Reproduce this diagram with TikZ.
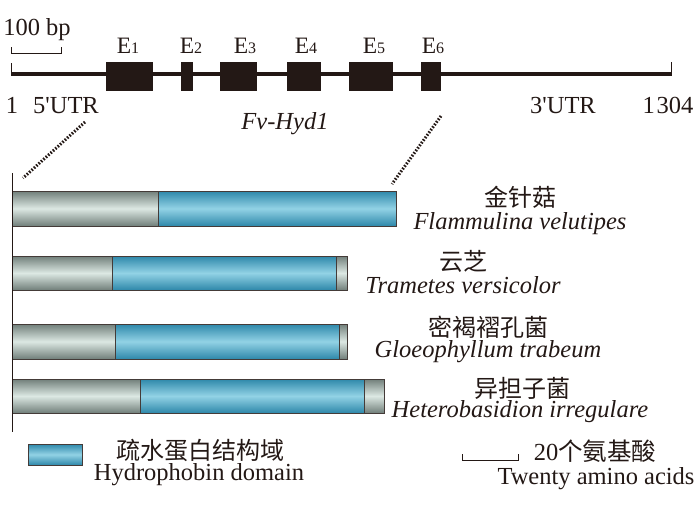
\documentclass[tikz,border=0pt]{standalone}
\usepackage{fontspec}
\setmainfont{Liberation Serif}
\newfontfamily\cjk{Noto Sans CJK SC}
\definecolor{txt}{HTML}{231815}
\definecolor{gdark}{HTML}{717F7A}
\definecolor{glight}{HTML}{DCE8E3}
\definecolor{bdark}{HTML}{2E88AA}
\definecolor{blight}{HTML}{92D2E5}
\begin{document}
\begin{tikzpicture}[x=1pt,y=-1pt,
  every node/.style={inner sep=0pt,outer sep=0pt,text=txt},
  lbl/.style={font=\fontsize{24.5}{26}\selectfont,anchor=base},
  itl/.style={font=\fontsize{24.5}{26}\selectfont\itshape,anchor=base},
  zh/.style={font=\fontsize{24}{26}\cjk,anchor=center},
  exlbl/.style={font=\fontsize{23.5}{25}\selectfont,anchor=base},
  exon/.style={fill=txt},
  graybar/.style={draw=txt!85,line width=0.8pt,top color=gdark,bottom color=gdark,middle color=glight},
  bluebar/.style={draw=txt!85,line width=0.8pt,top color=bdark,bottom color=bdark,middle color=blight},
  dotline/.style={txt,line width=3pt,dash pattern=on 1.6pt off 1.6pt},
  scalebar/.style={txt,line width=0.9pt}]
\useasboundingbox (0,0) rectangle (700,507);
% scale 100 bp
\node[lbl] (bp) at (37,35) {100 bp};
\draw[scalebar] (11,47) -- (11,53) -- (61,53) -- (61,47);
% gene line
\draw[txt,line width=3.5pt] (11,74) -- (671,74);
\draw[txt,line width=1pt] (11,63) -- (11,75.5);
\draw[txt,line width=1pt] (671,62) -- (671,75.5);
% exons
\fill[exon] (106,62) rectangle (153,91);
\fill[exon] (181,62) rectangle (193,91);
\fill[exon] (220,62) rectangle (257,91);
\fill[exon] (287,62) rectangle (321,91);
\fill[exon] (349,62) rectangle (393,91);
\fill[exon] (421,62) rectangle (441,91);
\node[exlbl] (e1) at (128,53) {E{\fontsize{16}{17}\selectfont 1}};
\node[exlbl] (e2) at (191,53) {E{\fontsize{16}{17}\selectfont 2}};
\node[exlbl] (e3) at (245,53) {E{\fontsize{16}{17}\selectfont 3}};
\node[exlbl] (e4) at (306,53) {E{\fontsize{16}{17}\selectfont 4}};
\node[exlbl] (e5) at (374,53) {E{\fontsize{16}{17}\selectfont 5}};
\node[exlbl] (e6) at (433,53) {E{\fontsize{16}{17}\selectfont 6}};
% gene labels
\node[lbl] (one) at (12,113) {1};
\node[lbl] (utr5) at (66,113) {5\textquotesingle UTR};
\node[itl] (gene) at (285,129) {Fv-Hyd1};
\node[lbl] (utr3) at (563,113) {3\textquotesingle UTR};
\node[lbl] (end) at (668,113) {1\kern2pt304};
% dotted connectors
\coordinate (d1a) at (85,122);
\coordinate (d1b) at (23,178);
\coordinate (d2a) at (441,116);
\coordinate (d2b) at (392,184);
\draw[dotline] (d1a) -- (d1b);
\draw[dotline] (d2a) -- (d2b);
% bars
\path[graybar] (12,191) rectangle (158,226);
\path[bluebar] (158,191) rectangle (396,226);
\path[graybar] (12,256) rectangle (112,290);
\path[bluebar] (112,256) rectangle (336,290);
\path[graybar] (336,256) rectangle (347,290);
\path[graybar] (12,324) rectangle (115,359);
\path[bluebar] (115,324) rectangle (339,359);
\path[graybar] (339,324) rectangle (347,359);
\path[graybar] (12,379) rectangle (140,413);
\path[bluebar] (140,379) rectangle (364,413);
\path[graybar] (364,379) rectangle (384,413);
% axis
\draw[txt,line width=1pt] (12,173) -- (12,432);
% species labels
\node[zh] (s1z) at (520,197) {金针菇};
\node[itl] (s1) at (520,229) {Flammulina velutipes};
\node[zh] (s2z) at (463,261) {云芝};
\node[itl] (s2) at (463,293) {Trametes versicolor};
\node[zh] (s3z) at (488,327) {密褐褶孔菌};
\node[itl] (s3) at (488,357) {Gloeophyllum trabeum};
\node[zh] (s4z) at (522,388) {异担子菌};
\node[itl] (s4) at (520,417) {Heterobasidion irregulare};
% legend
\path[bluebar] (28,444) rectangle (82,465);
\node[zh] (lz) at (200,450) {疏水蛋白结构域};
\node[lbl] (le) at (199,480) {Hydrophobin domain};
\draw[scalebar] (462,454) -- (462,460) -- (518,460) -- (518,454);
\node[lbl,anchor=center] (sa) at (595,451) {20{\cjk 个氨基酸}};
\node[lbl] (sb) at (596,484) {Twenty amino acids};
\end{tikzpicture}
\end{document}
